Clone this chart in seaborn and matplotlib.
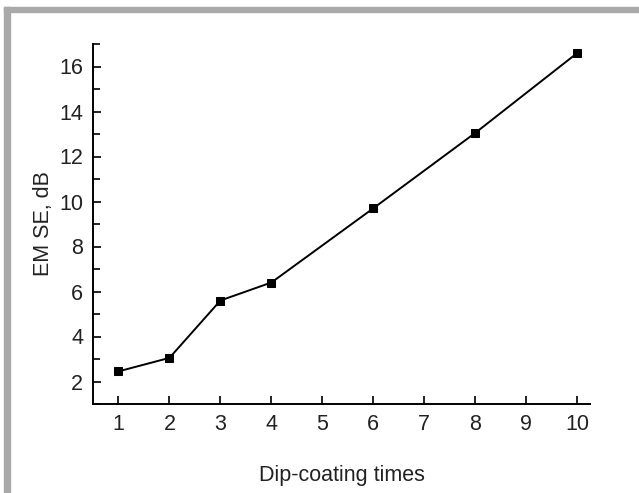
import matplotlib
matplotlib.use('Agg')
import matplotlib.pyplot as plt
from matplotlib.patches import Rectangle
from matplotlib.ticker import MultipleLocator
import pandas as pd
import seaborn as sns

# dip-coating cycles vs shielding effectiveness
dip_times = [1, 2, 3, 4, 6, 8, 10]
em_se = [2.45, 3.05, 5.6, 6.4, 9.7, 13.05, 16.6]
x_ticks = list(range(1, 11))
y_ticks = [2, 4, 6, 8, 10, 12, 14, 16]

sns.set_style('white')
plt.rcParams['font.family'] = ['Liberation Sans', 'DejaVu Sans']

fig = plt.figure(figsize=(6.39, 4.93), dpi=100)
ax = fig.add_axes([93 / 639, 89 / 493, 497 / 639, 360 / 493])

# grey frame on top and left
fig.patches.append(Rectangle((4 / 639, 0), 6 / 639, 486 / 493, transform=fig.transFigure,
                             color='#a9a9a9', zorder=0))
fig.patches.append(Rectangle((4 / 639, 481 / 493), 635 / 639, 5 / 493, transform=fig.transFigure,
                             color='#a9a9a9', zorder=0))

df = pd.DataFrame({'times': dip_times, 'se': em_se})
sns.lineplot(data=df, x='times', y='se', ax=ax, color='black', lw=1.4,
             marker='s', markersize=6, markeredgecolor='black')

ax.set_xlim(0.5, 10.25)
ax.set_ylim(1.0, 17.0)
ax.set_xticks(x_ticks)
ax.set_yticks(y_ticks)
ax.yaxis.set_minor_locator(MultipleLocator(1))

for side in ['top', 'right']:
    ax.spines[side].set_visible(False)
for side in ['left', 'bottom']:
    ax.spines[side].set_linewidth(1.4)
    ax.spines[side].set_color('black')

ax.tick_params(axis='both', which='major', direction='in', length=6, width=1.4,
               labelsize=15.5, colors='#222222', left=True, bottom=True)
ax.tick_params(axis='y', which='minor', direction='in', length=5, width=1.4, left=True)
ax.tick_params(axis='both', which='major', pad=7)

ax.set_xlabel('Dip-coating times', fontsize=15.5, color='#222222', labelpad=22)
ax.set_ylabel('EM SE, dB', fontsize=15.5, color='#222222', labelpad=4)

fig.savefig('out.png', dpi=100)
